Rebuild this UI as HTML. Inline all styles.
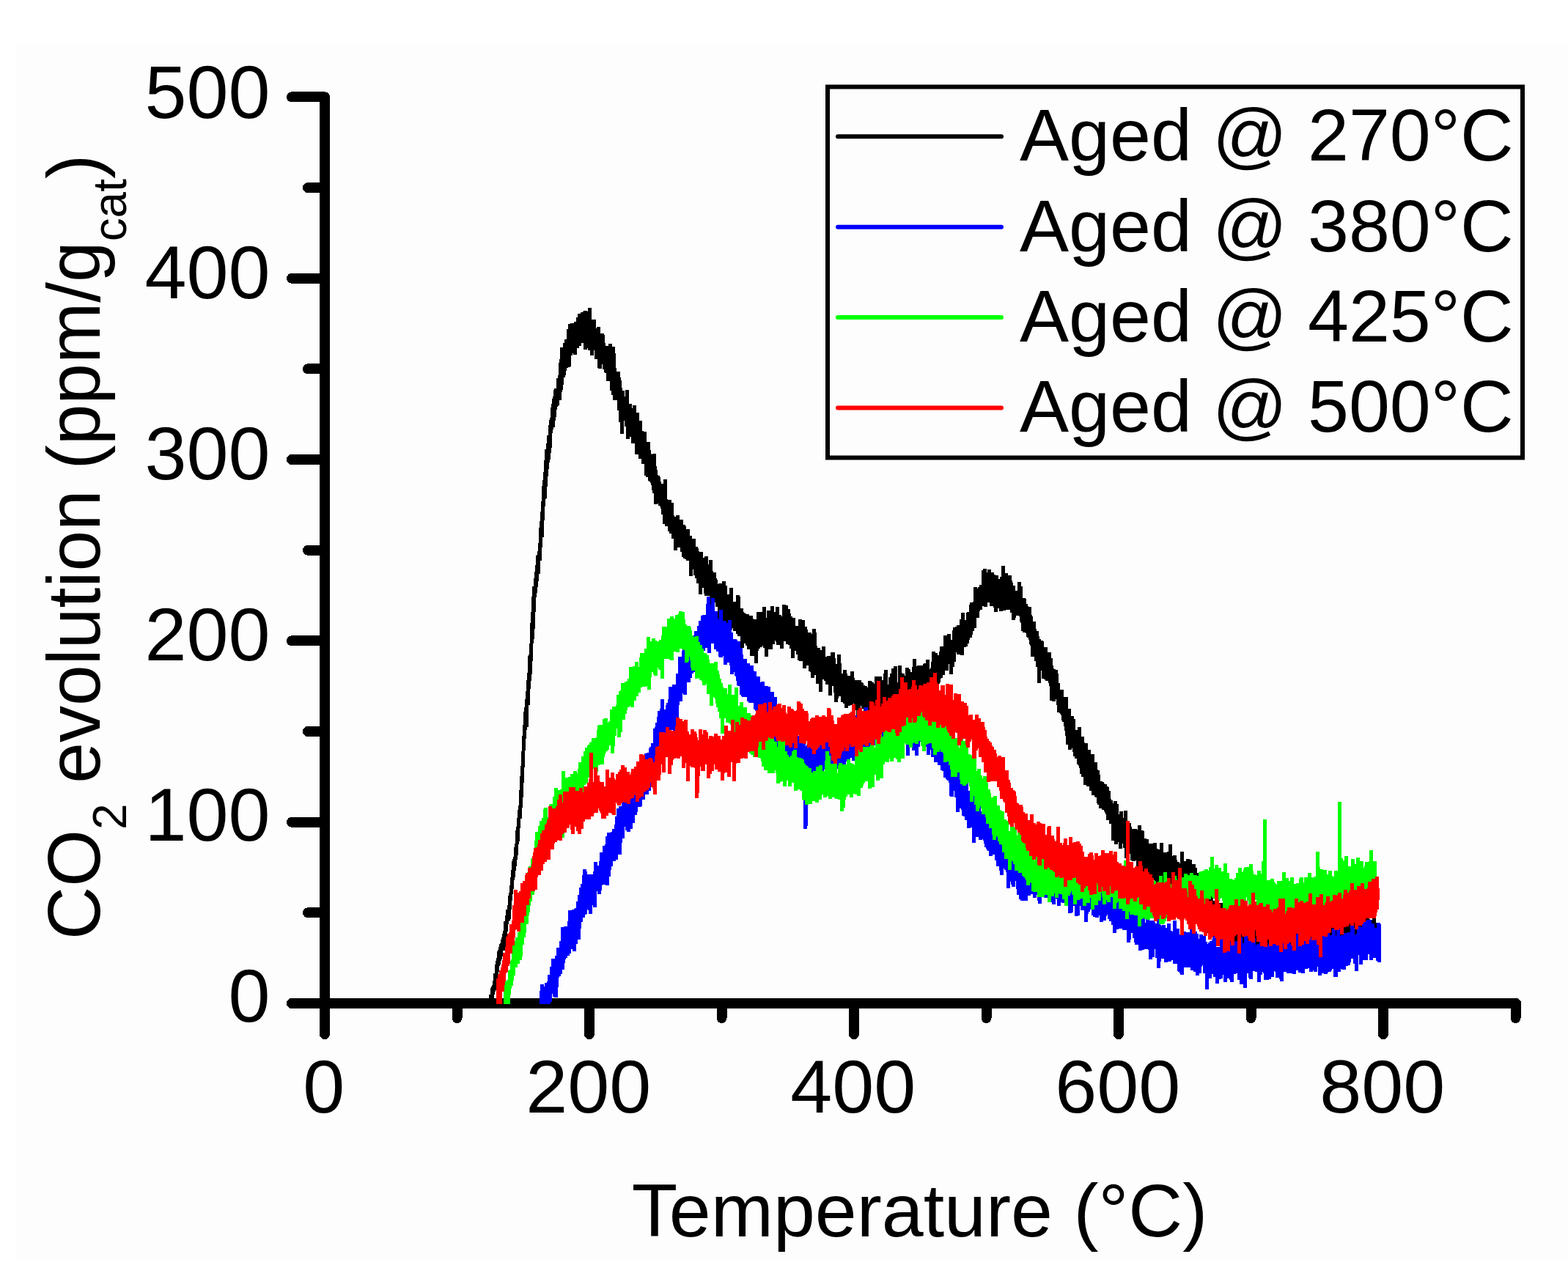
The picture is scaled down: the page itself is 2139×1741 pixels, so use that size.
<!DOCTYPE html>
<html><head><meta charset="utf-8"><title>CO2 evolution</title>
<style>html,body{margin:0;padding:0;background:#fff;overflow:hidden}svg{display:block}</style></head>
<body>
<svg width="2139" height="1741" viewBox="0 0 2139 1741" font-family="'Liberation Sans', sans-serif">
<rect x="0" y="0" width="2139" height="1741" fill="#ffffff"/>
<rect x="21" y="61" width="2118" height="1656" fill="#fdfdfd"/>
<g shape-rendering="crispEdges">
<line x1="443" y1="132.4" x2="443" y2="1369" stroke="#000" stroke-width="14" stroke-linecap="round"/>
<line x1="443" y1="1369" x2="2068" y2="1369" stroke="#000" stroke-width="14" stroke-linecap="round"/>
<line x1="443" y1="1369.0" x2="398" y2="1369.0" stroke="#000" stroke-width="14" stroke-linecap="round"/>
<line x1="443" y1="1245.3" x2="420" y2="1245.3" stroke="#000" stroke-width="14" stroke-linecap="round"/>
<line x1="443" y1="1121.7" x2="398" y2="1121.7" stroke="#000" stroke-width="14" stroke-linecap="round"/>
<line x1="443" y1="998.0" x2="420" y2="998.0" stroke="#000" stroke-width="14" stroke-linecap="round"/>
<line x1="443" y1="874.4" x2="398" y2="874.4" stroke="#000" stroke-width="14" stroke-linecap="round"/>
<line x1="443" y1="750.7" x2="420" y2="750.7" stroke="#000" stroke-width="14" stroke-linecap="round"/>
<line x1="443" y1="627.0" x2="398" y2="627.0" stroke="#000" stroke-width="14" stroke-linecap="round"/>
<line x1="443" y1="503.4" x2="420" y2="503.4" stroke="#000" stroke-width="14" stroke-linecap="round"/>
<line x1="443" y1="379.7" x2="398" y2="379.7" stroke="#000" stroke-width="14" stroke-linecap="round"/>
<line x1="443" y1="256.1" x2="420" y2="256.1" stroke="#000" stroke-width="14" stroke-linecap="round"/>
<line x1="443" y1="132.4" x2="398" y2="132.4" stroke="#000" stroke-width="14" stroke-linecap="round"/>
<line x1="443.0" y1="1369" x2="443.0" y2="1411" stroke="#000" stroke-width="14" stroke-linecap="round"/>
<line x1="623.5" y1="1369" x2="623.5" y2="1389" stroke="#000" stroke-width="14" stroke-linecap="round"/>
<line x1="804.0" y1="1369" x2="804.0" y2="1411" stroke="#000" stroke-width="14" stroke-linecap="round"/>
<line x1="984.5" y1="1369" x2="984.5" y2="1389" stroke="#000" stroke-width="14" stroke-linecap="round"/>
<line x1="1165.0" y1="1369" x2="1165.0" y2="1411" stroke="#000" stroke-width="14" stroke-linecap="round"/>
<line x1="1345.5" y1="1369" x2="1345.5" y2="1389" stroke="#000" stroke-width="14" stroke-linecap="round"/>
<line x1="1526.0" y1="1369" x2="1526.0" y2="1411" stroke="#000" stroke-width="14" stroke-linecap="round"/>
<line x1="1706.5" y1="1369" x2="1706.5" y2="1389" stroke="#000" stroke-width="14" stroke-linecap="round"/>
<line x1="1887.0" y1="1369" x2="1887.0" y2="1411" stroke="#000" stroke-width="14" stroke-linecap="round"/>
<line x1="2067.5" y1="1369" x2="2067.5" y2="1389" stroke="#000" stroke-width="14" stroke-linecap="round"/>
</g>
<g shape-rendering="crispEdges">
<path d="M666 1363 667 1363 667 1357 669 1357 669 1348 670 1348 670 1346 671 1346 671 1344 672 1344 672 1338 673 1338 673 1328 675 1328 675 1316 676 1316 676 1311 677 1311 677 1307 678 1307 678 1298 679 1298 679 1296 680 1296 680 1292 681 1292 681 1288 682 1288 682 1287 683 1287 683 1282 684 1282 684 1279 685 1279 685 1274 686 1274 686 1270 687 1270 687 1257 689 1257 689 1249 690 1249 690 1241 692 1241 692 1235 693 1235 693 1222 694 1222 694 1218 695 1218 695 1208 696 1208 696 1197 697 1197 697 1187 698 1187 698 1175 699 1175 699 1172 700 1172 700 1169 701 1169 701 1156 702 1156 702 1151 703 1151 703 1133 704 1133 704 1128 705 1128 705 1116 706 1116 706 1105 707 1105 707 1099 708 1099 708 1078 709 1078 709 1059 710 1059 710 1045 711 1045 711 1025 712 1025 712 1004 713 1004 713 989 714 989 714 971 715 971 715 965 716 965 716 954 717 954 717 943 718 943 718 928 719 928 719 918 720 918 720 895 721 895 721 893 722 893 722 878 723 878 723 850 724 850 724 835 725 835 725 814 726 814 726 800 728 800 728 789 729 789 729 780 730 780 730 771 731 771 731 758 732 758 732 757 733 757 733 752 734 752 734 741 735 741 735 720 736 720 736 711 737 711 737 698 738 698 738 684 739 684 739 663 740 663 740 655 741 655 741 644 742 644 742 628 743 628 743 613 745 613 745 605 746 605 746 594 748 594 748 580 749 580 749 573 750 573 750 570 751 570 751 556 752 556 752 551 753 551 753 544 754 544 754 541 755 541 755 532 756 532 756 530 759 530 759 516 761 516 761 512 762 512 762 495 763 495 763 490 764 490 764 474 768 474 768 468 770 468 770 463 773 463 773 449 775 449 775 442 778 442 778 441 783 441 783 439 786 439 786 433 788 433 788 428 792 428 792 426 795 426 795 425 796 425 796 424 801 424 801 425 802 425 802 420 807 420 807 436 813 436 813 448 814 448 814 446 819 446 819 455 824 455 824 457 825 457 825 468 826 468 826 472 830 472 830 469 835 469 835 473 839 473 839 482 840 482 840 502 841 502 841 507 846 507 846 515 847 515 847 519 848 519 848 529 849 529 849 533 852 533 852 541 853 541 853 532 858 532 858 551 862 551 862 557 863 557 863 553 868 553 868 563 872 563 872 574 876 574 876 588 878 588 878 589 882 589 882 603 887 603 887 614 888 614 888 619 889 619 889 620 890 620 890 619 895 619 895 636 896 636 896 641 897 641 897 648 898 648 898 649 900 649 900 651 901 651 901 657 902 657 902 660 905 660 905 654 910 654 910 681 911 681 911 682 916 682 916 686 919 686 919 703 920 703 920 705 922 705 922 703 927 703 927 709 932 709 932 716 935 716 935 718 936 718 936 722 941 722 941 731 944 731 944 735 949 735 949 746 952 746 952 748 953 748 953 752 954 752 954 753 959 753 959 761 961 761 961 759 966 759 966 770 967 770 967 764 972 764 972 779 973 779 973 781 977 781 977 789 978 789 978 791 979 791 979 797 980 797 980 796 985 796 985 793 990 793 990 799 992 799 992 811 995 811 995 802 1000 802 1000 821 1004 821 1004 812 1009 812 1009 814 1010 814 1010 830 1014 830 1014 835 1015 835 1015 836 1016 836 1016 837 1018 837 1018 838 1022 838 1022 840 1027 840 1027 844 1028 844 1028 845 1032 845 1032 835 1040 835 1040 828 1045 828 1045 843 1046 843 1046 833 1051 833 1051 827 1056 827 1056 835 1058 835 1058 828 1063 828 1063 839 1066 839 1066 841 1067 841 1067 825 1072 825 1072 826 1075 826 1075 831 1078 831 1078 837 1079 837 1079 841 1081 841 1081 843 1085 843 1085 854 1089 854 1089 845 1094 845 1094 846 1098 846 1098 855 1101 855 1101 859 1102 859 1102 863 1107 863 1107 865 1108 865 1108 858 1113 858 1113 863 1114 863 1114 881 1115 881 1115 884 1119 884 1119 887 1121 887 1121 882 1126 882 1126 896 1128 896 1128 895 1133 895 1133 890 1139 890 1139 898 1140 898 1140 906 1142 906 1142 893 1147 893 1147 905 1148 905 1148 919 1150 919 1150 914 1155 914 1155 919 1156 919 1156 922 1160 922 1160 916 1165 916 1165 925 1166 925 1166 928 1175 928 1175 931 1177 931 1177 932 1178 932 1178 935 1180 935 1180 936 1183 936 1183 938 1184 938 1184 929 1189 929 1189 930 1190 930 1190 931 1192 931 1192 933 1193 933 1193 923 1203 923 1203 928 1205 928 1205 919 1206 919 1206 914 1211 914 1211 934 1212 934 1212 924 1214 924 1214 919 1216 919 1216 912 1219 912 1219 909 1224 909 1224 931 1225 931 1225 908 1230 908 1230 918 1231 918 1231 919 1234 919 1234 922 1235 922 1235 911 1240 911 1240 913 1242 913 1242 917 1244 917 1244 910 1245 910 1245 899 1250 899 1250 909 1251 909 1251 908 1259 908 1259 906 1260 906 1260 905 1263 905 1263 900 1268 900 1268 913 1269 913 1269 911 1270 911 1270 903 1271 903 1271 889 1276 889 1276 891 1279 891 1279 894 1281 894 1281 889 1282 889 1282 882 1287 882 1287 867 1292 867 1292 865 1297 865 1297 873 1299 873 1299 860 1300 860 1300 856 1303 856 1303 855 1305 855 1305 853 1309 853 1309 845 1311 845 1311 836 1316 836 1316 846 1318 846 1318 836 1319 836 1319 835 1322 835 1322 825 1323 825 1323 822 1327 822 1327 821 1328 821 1328 801 1333 801 1333 803 1334 803 1334 801 1336 801 1336 798 1339 798 1339 778 1341 778 1341 776 1346 776 1346 781 1347 781 1347 777 1352 777 1352 781 1356 781 1356 784 1358 784 1358 785 1362 785 1362 790 1364 790 1364 787 1366 787 1366 772 1371 772 1371 782 1375 782 1375 785 1380 785 1380 792 1381 792 1381 795 1382 795 1382 799 1385 799 1385 806 1388 806 1388 794 1393 794 1393 800 1395 800 1395 816 1399 816 1399 817 1400 817 1400 824 1402 824 1402 827 1403 827 1403 828 1407 828 1407 839 1408 839 1408 841 1409 841 1409 848 1413 848 1413 858 1414 858 1414 861 1417 861 1417 868 1418 868 1418 872 1420 872 1420 874 1423 874 1423 875 1424 875 1424 883 1429 883 1429 890 1434 890 1434 898 1436 898 1436 908 1437 908 1437 912 1438 912 1438 913 1440 913 1440 914 1443 914 1443 919 1444 919 1444 932 1446 932 1446 941 1451 941 1451 951 1457 951 1457 967 1461 967 1461 977 1465 977 1465 981 1467 981 1467 996 1470 996 1470 992 1475 992 1475 1005 1479 1005 1479 1013 1480 1013 1480 1014 1484 1014 1484 1023 1488 1023 1488 1029 1493 1029 1493 1040 1497 1040 1497 1050 1498 1050 1498 1051 1500 1051 1500 1057 1501 1057 1501 1066 1504 1066 1504 1067 1506 1067 1506 1069 1507 1069 1507 1070 1510 1070 1510 1073 1512 1073 1512 1074 1513 1074 1513 1079 1515 1079 1515 1090 1516 1090 1516 1092 1518 1092 1518 1096 1519 1096 1519 1093 1524 1093 1524 1097 1526 1097 1526 1111 1527 1111 1527 1107 1532 1107 1532 1116 1533 1116 1533 1106 1538 1106 1538 1123 1543 1123 1543 1128 1544 1128 1544 1131 1551 1131 1551 1132 1552 1132 1552 1126 1557 1126 1557 1133 1560 1133 1560 1134 1561 1134 1561 1144 1564 1144 1564 1145 1567 1145 1567 1151 1573 1151 1573 1150 1578 1150 1578 1158 1580 1158 1580 1159 1582 1159 1582 1150 1587 1150 1587 1163 1592 1163 1592 1162 1594 1162 1594 1152 1599 1152 1599 1168 1600 1168 1600 1167 1605 1167 1605 1173 1606 1173 1606 1176 1609 1176 1609 1178 1610 1178 1610 1162 1615 1162 1615 1175 1618 1175 1618 1172 1623 1172 1623 1173 1626 1173 1626 1179 1631 1179 1631 1184 1633 1184 1633 1191 1635 1191 1635 1198 1636 1198 1636 1206 1641 1206 1641 1211 1646 1211 1646 1220 1650 1220 1650 1217 1655 1217 1655 1229 1657 1229 1657 1234 1661 1234 1661 1232 1668 1232 1668 1243 1669 1243 1669 1245 1674 1245 1674 1248 1678 1248 1678 1251 1682 1251 1682 1244 1687 1244 1687 1236 1692 1236 1692 1253 1696 1253 1696 1255 1698 1255 1698 1239 1703 1239 1703 1256 1705 1256 1705 1254 1712 1254 1712 1252 1717 1252 1717 1242 1722 1242 1722 1249 1723 1249 1723 1250 1726 1250 1726 1256 1727 1256 1727 1243 1732 1243 1732 1249 1733 1249 1733 1257 1736 1257 1736 1259 1740 1259 1740 1254 1745 1254 1745 1260 1747 1260 1747 1257 1750 1257 1750 1251 1753 1251 1753 1247 1758 1247 1758 1249 1760 1249 1760 1252 1761 1252 1761 1264 1762 1264 1762 1259 1765 1259 1765 1254 1770 1254 1770 1257 1772 1257 1772 1252 1773 1252 1773 1247 1778 1247 1778 1250 1783 1250 1783 1253 1785 1253 1785 1254 1786 1254 1786 1258 1787 1258 1787 1259 1790 1259 1790 1248 1795 1248 1795 1261 1797 1261 1797 1263 1798 1263 1798 1248 1803 1248 1803 1257 1806 1257 1806 1254 1808 1254 1808 1253 1813 1253 1813 1255 1815 1255 1815 1261 1816 1261 1816 1245 1821 1245 1821 1256 1823 1256 1823 1253 1825 1253 1825 1251 1830 1251 1830 1260 1831 1260 1831 1247 1836 1247 1836 1261 1837 1261 1837 1258 1838 1258 1838 1249 1841 1249 1841 1248 1846 1248 1846 1256 1847 1256 1847 1249 1851 1249 1851 1247 1856 1247 1856 1248 1863 1248 1863 1238 1868 1238 1868 1254 1869 1254 1869 1256 1870 1256 1870 1255 1872 1255 1872 1253 1877 1253 1877 1259 1880 1259 1880 1282 1879 1282 1879 1294 1874 1294 1874 1293 1869 1293 1869 1290 1865 1290 1865 1292 1860 1292 1860 1286 1858 1286 1858 1293 1856 1293 1856 1294 1852 1294 1852 1302 1847 1302 1847 1300 1839 1300 1839 1298 1835 1298 1835 1296 1832 1296 1832 1294 1831 1294 1831 1306 1828 1306 1828 1309 1823 1309 1823 1304 1816 1304 1816 1294 1815 1294 1815 1298 1813 1298 1813 1302 1806 1302 1806 1297 1800 1297 1800 1299 1797 1299 1797 1301 1792 1301 1792 1298 1790 1298 1790 1295 1786 1295 1786 1293 1785 1293 1785 1294 1783 1294 1783 1295 1778 1295 1778 1293 1777 1293 1777 1300 1776 1300 1776 1301 1775 1301 1775 1303 1770 1303 1770 1302 1769 1302 1769 1303 1766 1303 1766 1306 1761 1306 1761 1302 1757 1302 1757 1300 1752 1300 1752 1299 1750 1299 1750 1301 1748 1301 1748 1304 1743 1304 1743 1293 1742 1293 1742 1295 1740 1295 1740 1297 1739 1297 1739 1302 1738 1302 1738 1309 1733 1309 1733 1308 1732 1308 1732 1301 1730 1301 1730 1299 1727 1299 1727 1304 1722 1304 1722 1293 1721 1293 1721 1299 1716 1299 1716 1295 1712 1295 1712 1299 1711 1299 1711 1300 1708 1300 1708 1305 1699 1305 1699 1298 1697 1298 1697 1296 1696 1296 1696 1297 1694 1297 1694 1302 1689 1302 1689 1290 1688 1290 1688 1284 1686 1284 1686 1288 1683 1288 1683 1289 1680 1289 1680 1290 1675 1290 1675 1292 1673 1292 1673 1295 1665 1295 1665 1288 1664 1288 1664 1290 1659 1290 1659 1277 1658 1277 1658 1275 1655 1275 1655 1268 1654 1268 1654 1263 1651 1263 1651 1273 1646 1273 1646 1265 1644 1265 1644 1264 1643 1264 1643 1253 1642 1253 1642 1250 1640 1250 1640 1247 1638 1247 1638 1245 1636 1245 1636 1241 1634 1241 1634 1235 1632 1235 1632 1228 1629 1228 1629 1223 1627 1223 1627 1228 1622 1228 1622 1227 1619 1227 1619 1212 1617 1212 1617 1223 1612 1223 1612 1221 1611 1221 1611 1218 1609 1218 1609 1212 1608 1212 1608 1223 1603 1223 1603 1210 1602 1210 1602 1218 1597 1218 1597 1213 1594 1213 1594 1210 1593 1210 1593 1200 1591 1200 1591 1213 1586 1213 1586 1211 1585 1211 1585 1210 1581 1210 1581 1204 1580 1204 1580 1220 1575 1220 1575 1201 1573 1201 1573 1203 1572 1203 1572 1208 1567 1208 1567 1194 1564 1194 1564 1193 1557 1193 1557 1176 1555 1176 1555 1185 1550 1185 1550 1174 1549 1174 1549 1175 1544 1175 1544 1174 1542 1174 1542 1165 1539 1165 1539 1171 1534 1171 1534 1157 1532 1157 1532 1151 1531 1151 1531 1158 1526 1158 1526 1149 1525 1149 1525 1152 1520 1152 1520 1147 1516 1147 1516 1124 1513 1124 1513 1119 1509 1119 1509 1111 1508 1111 1508 1109 1507 1109 1507 1107 1506 1107 1506 1105 1503 1105 1503 1103 1499 1103 1499 1098 1497 1098 1497 1096 1496 1096 1496 1088 1494 1088 1494 1087 1493 1087 1493 1085 1489 1085 1489 1079 1486 1079 1486 1073 1482 1073 1482 1071 1478 1071 1478 1060 1475 1060 1475 1056 1473 1056 1473 1048 1472 1048 1472 1045 1471 1045 1471 1043 1469 1043 1469 1035 1466 1035 1466 1032 1464 1032 1464 1026 1463 1026 1463 1021 1462 1021 1462 1023 1457 1023 1457 1016 1454 1016 1454 1004 1453 1004 1453 997 1452 997 1452 991 1451 991 1451 985 1449 985 1449 983 1448 983 1448 976 1447 976 1447 974 1446 974 1446 973 1445 973 1445 972 1442 972 1442 962 1441 962 1441 954 1440 954 1440 957 1435 957 1435 956 1432 956 1432 936 1431 936 1431 932 1430 932 1430 929 1426 929 1426 927 1424 927 1424 926 1421 926 1421 915 1420 915 1420 932 1415 932 1415 910 1413 910 1413 902 1411 902 1411 896 1406 896 1406 881 1405 881 1405 879 1404 879 1404 873 1403 873 1403 870 1401 870 1401 869 1400 869 1400 864 1399 864 1399 863 1395 863 1395 861 1393 861 1393 850 1392 850 1392 848 1391 848 1391 841 1390 841 1390 840 1386 840 1386 843 1385 843 1385 846 1380 846 1380 836 1378 836 1378 832 1372 832 1372 833 1368 833 1368 834 1363 834 1363 830 1361 830 1361 835 1356 835 1356 829 1355 829 1355 827 1350 827 1350 822 1347 822 1347 828 1342 828 1342 827 1340 827 1340 832 1337 832 1337 834 1336 834 1336 843 1332 843 1332 857 1329 857 1329 861 1327 861 1327 866 1326 866 1326 870 1323 870 1323 873 1322 873 1322 878 1320 878 1320 882 1318 882 1318 883 1315 883 1315 894 1310 894 1310 893 1305 893 1305 890 1304 890 1304 903 1302 903 1302 910 1300 910 1300 920 1295 920 1295 906 1294 906 1294 915 1289 915 1289 921 1286 921 1286 925 1284 925 1284 926 1283 926 1283 931 1282 931 1282 933 1280 933 1280 935 1279 935 1279 944 1273 944 1273 946 1269 946 1269 949 1266 949 1266 960 1261 960 1261 941 1260 941 1260 944 1259 944 1259 945 1257 945 1257 950 1253 950 1253 957 1248 957 1248 951 1247 951 1247 959 1243 959 1243 963 1238 963 1238 956 1237 956 1237 963 1232 963 1232 955 1230 955 1230 960 1228 960 1228 962 1227 962 1227 963 1225 963 1225 968 1220 968 1220 963 1219 963 1219 968 1214 968 1214 972 1212 972 1212 974 1208 974 1208 976 1203 976 1203 972 1202 972 1202 971 1201 971 1201 967 1198 967 1198 960 1197 960 1197 980 1192 980 1192 975 1191 975 1191 976 1187 976 1187 980 1182 980 1182 973 1181 973 1181 972 1178 972 1178 967 1175 967 1175 963 1174 963 1174 978 1169 978 1169 977 1168 977 1168 969 1165 969 1165 960 1164 960 1164 962 1160 962 1160 963 1157 963 1157 966 1152 966 1152 960 1150 960 1150 958 1147 958 1147 950 1144 950 1144 953 1143 953 1143 958 1138 958 1138 945 1137 945 1137 936 1135 936 1135 949 1130 949 1130 934 1126 934 1126 929 1124 929 1124 927 1122 927 1122 944 1117 944 1117 933 1113 933 1113 921 1111 921 1111 925 1106 925 1106 917 1105 917 1105 916 1103 916 1103 908 1100 908 1100 912 1095 912 1095 902 1090 902 1090 901 1088 901 1088 893 1086 893 1086 888 1084 888 1084 898 1079 898 1079 885 1077 885 1077 880 1075 880 1075 879 1072 879 1072 875 1069 875 1069 885 1064 885 1064 880 1059 880 1059 876 1058 876 1058 874 1057 874 1057 879 1054 879 1054 886 1048 886 1048 896 1043 896 1043 884 1041 884 1041 881 1040 881 1040 883 1037 883 1037 885 1035 885 1035 888 1034 888 1034 905 1029 905 1029 895 1023 895 1023 886 1019 886 1019 881 1017 881 1017 878 1015 878 1015 884 1010 884 1010 868 1006 868 1006 865 1004 865 1004 861 1000 861 1000 857 999 857 999 859 997 859 997 864 992 864 992 852 991 852 991 856 986 856 986 844 984 844 984 847 979 847 979 828 976 828 976 822 974 822 974 827 969 827 969 816 968 816 968 813 961 813 961 810 960 810 960 802 958 802 958 811 953 811 953 796 950 796 950 789 948 789 948 785 946 785 946 777 945 777 945 786 940 786 940 765 936 765 936 763 934 763 934 762 932 762 932 760 930 760 930 753 928 753 928 747 924 747 924 751 919 751 919 735 916 735 916 728 913 728 913 725 911 725 911 718 907 718 907 715 904 715 904 702 902 702 902 694 901 694 901 691 900 691 900 690 898 690 898 687 897 687 897 688 892 688 892 673 890 673 890 669 889 669 889 662 888 662 888 659 887 659 887 657 885 657 885 656 884 656 884 651 881 651 881 649 879 649 879 633 875 633 875 626 871 626 871 620 866 620 866 605 861 605 861 596 859 596 859 599 854 599 854 582 852 582 852 574 851 574 851 592 846 592 846 576 844 576 844 560 842 560 842 546 836 546 836 539 834 539 834 533 832 533 832 520 827 520 827 509 825 509 825 508 824 508 824 504 822 504 822 497 821 497 821 503 816 503 816 502 815 502 815 490 811 490 811 478 810 478 810 485 805 485 805 478 802 478 802 475 801 475 801 477 796 477 796 468 793 468 793 472 790 472 790 475 787 475 787 484 782 484 782 482 781 482 781 485 779 485 779 500 778 500 778 501 775 501 775 502 773 502 773 506 772 506 772 512 771 512 771 515 769 515 769 525 768 525 768 532 767 532 767 535 766 535 766 546 763 546 763 553 762 553 762 554 761 554 761 555 760 555 760 559 759 559 759 569 758 569 758 574 757 574 757 583 755 583 755 586 754 586 754 591 753 591 753 611 752 611 752 618 751 618 751 627 750 627 750 631 749 631 749 640 748 640 748 650 747 650 747 664 746 664 746 680 745 680 745 681 744 681 744 691 743 691 743 710 742 710 742 733 740 733 740 747 739 747 739 765 737 765 737 783 735 783 735 793 734 793 734 801 733 801 733 809 732 809 732 815 731 815 731 835 730 835 730 858 729 858 729 872 728 872 728 878 727 878 727 902 726 902 726 920 725 920 725 929 724 929 724 940 723 940 723 962 721 962 721 992 719 992 719 996 718 996 718 1008 717 1008 717 1024 716 1024 716 1047 715 1047 715 1068 714 1068 714 1088 713 1088 713 1102 712 1102 712 1117 710 1117 710 1130 709 1130 709 1148 708 1148 708 1152 707 1152 707 1167 706 1167 706 1173 705 1173 705 1182 704 1182 704 1188 703 1188 703 1197 702 1197 702 1201 701 1201 701 1213 700 1213 700 1220 699 1220 699 1229 698 1229 698 1241 697 1241 697 1254 696 1254 696 1256 695 1256 695 1257 694 1257 694 1261 693 1261 693 1271 692 1271 692 1278 691 1278 691 1280 690 1280 690 1294 689 1294 689 1297 686 1297 686 1305 685 1305 685 1309 684 1309 684 1311 683 1311 683 1316 682 1316 682 1318 681 1318 681 1326 680 1326 680 1331 679 1331 679 1340 677 1340 677 1351 676 1351 676 1353 675 1353 675 1357 674 1357 674 1365 673 1365 673 1367 672 1367 672 1370 666 1370Z" fill="#000000"/>
<path d="M736 1352 737 1352 737 1343 742 1343 742 1346 743 1346 743 1341 746 1341 746 1339 747 1339 747 1330 750 1330 750 1319 752 1319 752 1308 757 1308 757 1304 759 1304 759 1293 763 1293 763 1284 765 1284 765 1265 769 1265 769 1264 774 1264 774 1257 775 1257 775 1242 780 1242 780 1241 783 1241 783 1240 784 1240 784 1239 786 1239 786 1230 788 1230 788 1221 790 1221 790 1211 792 1211 792 1206 794 1206 794 1194 795 1194 795 1186 800 1186 800 1189 801 1189 801 1193 809 1193 809 1189 810 1189 810 1176 815 1176 815 1181 817 1181 817 1175 818 1175 818 1163 822 1163 822 1154 825 1154 825 1152 826 1152 826 1141 828 1141 828 1136 833 1136 833 1135 835 1135 835 1131 838 1131 838 1125 839 1125 839 1114 841 1114 841 1103 844 1103 844 1100 848 1100 848 1096 849 1096 849 1089 852 1089 852 1086 858 1086 858 1074 859 1074 859 1072 860 1072 860 1071 862 1071 862 1068 863 1068 863 1066 864 1066 864 1064 866 1064 866 1059 870 1059 870 1051 873 1051 873 1040 876 1040 876 1032 879 1032 879 1028 882 1028 882 1027 885 1027 885 1021 886 1021 886 1019 888 1019 888 1014 891 1014 891 994 893 994 893 992 894 992 894 986 896 986 896 978 897 978 897 970 900 970 900 967 901 967 901 954 906 954 906 968 908 968 908 962 909 962 909 959 911 959 911 954 912 954 912 937 917 937 917 934 922 934 922 919 925 919 925 896 930 896 930 888 931 888 931 886 935 886 935 877 939 877 939 868 945 868 945 867 947 867 947 861 951 861 951 854 953 854 953 847 956 847 956 840 958 840 958 839 963 839 963 824 964 824 964 814 969 814 969 825 970 825 970 816 975 816 975 834 979 834 979 843 980 843 980 845 981 845 981 832 986 832 986 847 991 847 991 850 993 850 993 846 998 846 998 863 1000 863 1000 872 1005 872 1005 873 1006 873 1006 875 1010 875 1010 884 1013 884 1013 893 1014 893 1014 899 1019 899 1019 905 1023 905 1023 908 1028 908 1028 915 1029 915 1029 916 1032 916 1032 923 1037 923 1037 931 1038 931 1038 930 1043 930 1043 936 1048 936 1048 937 1051 937 1051 944 1056 944 1056 951 1060 951 1060 962 1062 962 1062 965 1063 965 1063 979 1067 979 1067 980 1068 980 1068 983 1069 983 1069 981 1070 981 1070 978 1075 978 1075 996 1076 996 1076 1000 1078 1000 1078 1001 1085 1001 1085 1004 1090 1004 1090 1012 1091 1012 1091 1002 1096 1002 1096 1005 1099 1005 1099 1018 1100 1018 1100 1016 1101 1016 1101 1013 1102 1013 1102 1011 1107 1011 1107 1016 1108 1016 1108 1014 1113 1014 1113 1013 1114 1013 1114 998 1119 998 1119 1013 1120 1013 1120 1010 1121 1010 1121 1008 1123 1008 1123 1004 1127 1004 1127 998 1132 998 1132 996 1134 996 1134 993 1139 993 1139 1002 1140 1002 1140 1000 1145 1000 1145 997 1150 997 1150 1002 1151 1002 1151 995 1156 995 1156 997 1160 997 1160 979 1165 979 1165 983 1166 983 1166 976 1171 976 1171 981 1172 981 1172 985 1174 985 1174 979 1177 979 1177 971 1179 971 1179 965 1184 965 1184 977 1186 977 1186 973 1191 973 1191 977 1193 977 1193 966 1198 966 1198 975 1201 975 1201 968 1205 968 1205 960 1210 960 1210 963 1215 963 1215 964 1216 964 1216 963 1221 963 1221 957 1226 957 1226 970 1228 970 1228 972 1229 972 1229 960 1234 960 1234 962 1242 962 1242 964 1244 964 1244 967 1247 967 1247 974 1248 974 1248 977 1249 977 1249 959 1254 959 1254 968 1258 968 1258 965 1263 965 1263 970 1267 970 1267 978 1269 978 1269 979 1273 979 1273 984 1277 984 1277 1002 1279 1002 1279 996 1284 996 1284 1002 1285 1002 1285 996 1290 996 1290 1016 1292 1016 1292 1018 1295 1018 1295 1020 1296 1020 1296 1033 1297 1033 1297 1028 1302 1028 1302 1042 1303 1042 1303 1043 1306 1043 1306 1040 1311 1040 1311 1057 1313 1057 1313 1064 1316 1064 1316 1062 1321 1062 1321 1079 1325 1079 1325 1086 1330 1086 1330 1087 1332 1087 1332 1088 1333 1088 1333 1085 1338 1085 1338 1107 1339 1107 1339 1108 1341 1108 1341 1100 1345 1100 1345 1098 1350 1098 1350 1119 1352 1119 1352 1120 1356 1120 1356 1107 1361 1107 1361 1114 1364 1114 1364 1134 1371 1134 1371 1147 1373 1147 1373 1148 1377 1148 1377 1153 1378 1153 1378 1162 1379 1162 1379 1153 1383 1153 1383 1151 1388 1151 1388 1159 1390 1159 1390 1164 1394 1164 1394 1163 1399 1163 1399 1167 1400 1167 1400 1161 1405 1161 1405 1162 1406 1162 1406 1176 1408 1176 1408 1174 1413 1174 1413 1176 1416 1176 1416 1180 1419 1180 1419 1176 1423 1176 1423 1170 1428 1170 1428 1172 1431 1172 1431 1185 1434 1185 1434 1186 1437 1186 1437 1168 1442 1168 1442 1181 1444 1181 1444 1175 1447 1175 1447 1174 1452 1174 1452 1185 1456 1185 1456 1178 1457 1178 1457 1168 1462 1168 1462 1192 1463 1192 1463 1191 1465 1191 1465 1176 1470 1176 1470 1187 1472 1187 1472 1189 1473 1189 1473 1193 1475 1193 1475 1192 1477 1192 1477 1185 1482 1185 1482 1195 1483 1195 1483 1189 1488 1189 1488 1194 1490 1194 1490 1201 1493 1201 1493 1203 1495 1203 1495 1204 1496 1204 1496 1190 1501 1190 1501 1197 1502 1197 1502 1202 1507 1202 1507 1212 1509 1212 1509 1202 1514 1202 1514 1207 1518 1207 1518 1204 1523 1204 1523 1224 1528 1224 1528 1229 1529 1229 1529 1231 1530 1231 1530 1224 1532 1224 1532 1223 1537 1223 1537 1229 1542 1229 1542 1238 1543 1238 1543 1244 1544 1244 1544 1234 1550 1234 1550 1241 1555 1241 1555 1242 1556 1242 1556 1244 1561 1244 1561 1250 1562 1250 1562 1259 1563 1259 1563 1238 1568 1238 1568 1256 1575 1256 1575 1258 1576 1258 1576 1260 1578 1260 1578 1249 1583 1249 1583 1262 1584 1262 1584 1263 1585 1263 1585 1262 1590 1262 1590 1266 1592 1266 1592 1260 1597 1260 1597 1270 1599 1270 1599 1271 1600 1271 1600 1256 1605 1256 1605 1267 1609 1267 1609 1275 1611 1275 1611 1274 1613 1274 1613 1271 1618 1271 1618 1272 1623 1272 1623 1251 1628 1251 1628 1271 1633 1271 1633 1274 1635 1274 1635 1281 1636 1281 1636 1275 1641 1275 1641 1277 1645 1277 1645 1285 1647 1285 1647 1288 1648 1288 1648 1286 1650 1286 1650 1284 1653 1284 1653 1282 1654 1282 1654 1273 1659 1273 1659 1292 1664 1292 1664 1273 1669 1273 1669 1280 1672 1280 1672 1282 1674 1282 1674 1291 1676 1291 1676 1294 1677 1294 1677 1290 1678 1290 1678 1285 1685 1285 1685 1284 1690 1284 1690 1279 1695 1279 1695 1287 1697 1287 1697 1275 1702 1275 1702 1283 1703 1283 1703 1272 1708 1272 1708 1274 1712 1274 1712 1280 1713 1280 1713 1290 1714 1290 1714 1288 1718 1288 1718 1283 1723 1283 1723 1284 1724 1284 1724 1292 1726 1292 1726 1290 1730 1290 1730 1287 1731 1287 1731 1276 1736 1276 1736 1285 1738 1285 1738 1287 1741 1287 1741 1286 1747 1286 1747 1285 1750 1285 1750 1277 1753 1277 1753 1276 1758 1276 1758 1286 1760 1286 1760 1288 1761 1288 1761 1286 1762 1286 1762 1284 1763 1284 1763 1277 1766 1277 1766 1276 1767 1276 1767 1275 1769 1275 1769 1274 1773 1274 1773 1264 1778 1264 1778 1276 1779 1276 1779 1275 1784 1275 1784 1277 1788 1277 1788 1279 1789 1279 1789 1281 1790 1281 1790 1275 1792 1275 1792 1274 1795 1274 1795 1265 1800 1265 1800 1272 1801 1272 1801 1274 1805 1274 1805 1277 1808 1277 1808 1271 1814 1271 1814 1276 1817 1276 1817 1267 1822 1267 1822 1277 1823 1277 1823 1265 1828 1265 1828 1277 1829 1277 1829 1276 1833 1276 1833 1273 1838 1273 1838 1272 1842 1272 1842 1259 1847 1259 1847 1266 1848 1266 1848 1276 1849 1276 1849 1274 1851 1274 1851 1264 1856 1264 1856 1265 1858 1265 1858 1253 1863 1253 1863 1256 1865 1256 1865 1255 1871 1255 1871 1260 1875 1260 1875 1266 1878 1266 1878 1259 1883 1259 1883 1261 1884 1261 1884 1313 1879 1313 1879 1311 1877 1311 1877 1307 1873 1307 1873 1310 1868 1310 1868 1302 1866 1302 1866 1310 1859 1310 1859 1316 1854 1316 1854 1303 1853 1303 1853 1325 1848 1325 1848 1315 1846 1315 1846 1308 1843 1308 1843 1313 1842 1313 1842 1317 1839 1317 1839 1318 1836 1318 1836 1323 1830 1323 1830 1322 1829 1322 1829 1326 1825 1326 1825 1333 1819 1333 1819 1322 1817 1322 1817 1324 1816 1324 1816 1326 1812 1326 1812 1327 1811 1327 1811 1329 1806 1329 1806 1328 1803 1328 1803 1331 1798 1331 1798 1319 1797 1319 1797 1326 1792 1326 1792 1324 1791 1324 1791 1326 1786 1326 1786 1321 1784 1321 1784 1322 1780 1322 1780 1328 1775 1328 1775 1327 1771 1327 1771 1324 1768 1324 1768 1329 1763 1329 1763 1328 1755 1328 1755 1326 1751 1326 1751 1339 1746 1339 1746 1336 1745 1336 1745 1334 1740 1334 1740 1326 1739 1326 1739 1325 1738 1325 1738 1333 1734 1333 1734 1336 1731 1336 1731 1337 1724 1337 1724 1328 1723 1328 1723 1326 1722 1326 1722 1330 1720 1330 1720 1340 1715 1340 1715 1326 1712 1326 1712 1325 1709 1325 1709 1336 1704 1336 1704 1334 1703 1334 1703 1328 1701 1328 1701 1348 1696 1348 1696 1343 1691 1343 1691 1337 1688 1337 1688 1328 1686 1328 1686 1329 1683 1329 1683 1340 1678 1340 1678 1337 1677 1337 1677 1335 1674 1335 1674 1340 1669 1340 1669 1330 1668 1330 1668 1335 1666 1335 1666 1336 1663 1336 1663 1342 1658 1342 1658 1333 1655 1333 1655 1329 1653 1329 1653 1335 1649 1335 1649 1350 1644 1350 1644 1328 1641 1328 1641 1317 1640 1317 1640 1319 1639 1319 1639 1328 1636 1328 1636 1331 1631 1331 1631 1326 1628 1326 1628 1324 1624 1324 1624 1320 1615 1320 1615 1330 1610 1330 1610 1328 1609 1328 1609 1326 1607 1326 1607 1325 1606 1325 1606 1315 1600 1315 1600 1310 1598 1310 1598 1312 1593 1312 1593 1313 1588 1313 1588 1308 1584 1308 1584 1312 1583 1312 1583 1321 1578 1321 1578 1307 1576 1307 1576 1295 1575 1295 1575 1306 1572 1306 1572 1309 1567 1309 1567 1296 1566 1296 1566 1295 1561 1295 1561 1296 1558 1296 1558 1297 1553 1297 1553 1289 1548 1289 1548 1286 1547 1286 1547 1280 1545 1280 1545 1273 1543 1273 1543 1282 1542 1282 1542 1286 1537 1286 1537 1269 1531 1269 1531 1267 1526 1267 1526 1268 1523 1268 1523 1273 1518 1273 1518 1262 1516 1262 1516 1257 1513 1257 1513 1254 1511 1254 1511 1248 1510 1248 1510 1250 1509 1250 1509 1256 1505 1256 1505 1258 1500 1258 1500 1249 1499 1249 1499 1252 1494 1252 1494 1251 1491 1251 1491 1249 1489 1249 1489 1230 1488 1230 1488 1241 1487 1241 1487 1244 1485 1244 1485 1247 1484 1247 1484 1258 1479 1258 1479 1242 1474 1242 1474 1236 1473 1236 1473 1249 1471 1249 1471 1250 1466 1250 1466 1236 1464 1236 1464 1245 1462 1245 1462 1246 1457 1246 1457 1233 1454 1233 1454 1228 1453 1228 1453 1232 1448 1232 1448 1231 1447 1231 1447 1236 1442 1236 1442 1227 1441 1227 1441 1226 1440 1226 1440 1234 1435 1234 1435 1231 1431 1231 1431 1222 1429 1222 1429 1225 1424 1225 1424 1222 1421 1222 1421 1233 1416 1233 1416 1229 1415 1229 1415 1221 1414 1221 1414 1225 1409 1225 1409 1220 1406 1220 1406 1222 1402 1222 1402 1229 1392 1229 1392 1227 1390 1227 1390 1221 1387 1221 1387 1213 1386 1213 1386 1202 1385 1202 1385 1210 1380 1210 1380 1207 1379 1207 1379 1203 1378 1203 1378 1212 1373 1212 1373 1190 1372 1190 1372 1187 1370 1187 1370 1185 1369 1185 1369 1194 1364 1194 1364 1188 1363 1188 1363 1182 1359 1182 1359 1174 1357 1174 1357 1166 1354 1166 1354 1168 1349 1168 1349 1161 1347 1161 1347 1160 1346 1160 1346 1158 1345 1158 1345 1156 1343 1156 1343 1151 1342 1151 1342 1147 1341 1147 1341 1145 1340 1145 1340 1146 1335 1146 1335 1142 1331 1142 1331 1150 1326 1150 1326 1129 1324 1129 1324 1130 1319 1130 1319 1119 1316 1119 1316 1114 1314 1114 1314 1113 1312 1113 1312 1105 1311 1105 1311 1103 1309 1103 1309 1108 1304 1108 1304 1088 1302 1088 1302 1079 1301 1079 1301 1087 1296 1087 1296 1086 1295 1086 1295 1068 1294 1068 1294 1065 1292 1065 1292 1064 1291 1064 1291 1063 1290 1063 1290 1061 1287 1061 1287 1052 1285 1052 1285 1051 1283 1051 1283 1044 1279 1044 1279 1040 1274 1040 1274 1033 1270 1033 1270 1023 1269 1023 1269 1030 1264 1030 1264 1019 1263 1019 1263 1020 1258 1020 1258 1015 1256 1015 1256 1012 1255 1012 1255 1019 1253 1019 1253 1031 1248 1031 1248 1024 1244 1024 1244 1011 1242 1011 1242 1016 1241 1016 1241 1031 1236 1031 1236 1011 1233 1011 1233 1010 1230 1010 1230 1014 1225 1014 1225 1007 1223 1007 1223 1016 1218 1016 1218 1017 1213 1017 1213 1012 1211 1012 1211 1015 1207 1015 1207 1018 1203 1018 1203 1022 1198 1022 1198 1014 1197 1014 1197 1017 1192 1017 1192 1015 1191 1015 1191 1025 1186 1025 1186 1022 1185 1022 1185 1023 1182 1023 1182 1027 1181 1027 1181 1035 1178 1035 1178 1037 1173 1037 1173 1034 1168 1034 1168 1026 1167 1026 1167 1038 1162 1038 1162 1034 1160 1034 1160 1037 1158 1037 1158 1039 1154 1039 1154 1045 1149 1045 1149 1046 1146 1046 1146 1049 1141 1049 1141 1048 1139 1048 1139 1046 1138 1046 1138 1056 1133 1056 1133 1049 1130 1049 1130 1047 1129 1047 1129 1049 1127 1049 1127 1050 1124 1050 1124 1057 1119 1057 1119 1056 1118 1056 1118 1061 1115 1061 1115 1062 1110 1062 1110 1061 1107 1061 1107 1063 1102 1063 1102 1127 1101 1127 1101 1131 1096 1131 1096 1064 1093 1064 1093 1061 1092 1061 1092 1053 1091 1053 1091 1052 1087 1052 1087 1056 1082 1056 1082 1041 1079 1041 1079 1040 1076 1040 1076 1035 1073 1035 1073 1032 1068 1032 1068 1023 1067 1023 1067 1022 1066 1022 1066 1021 1065 1021 1065 1023 1059 1023 1059 1013 1055 1013 1055 1005 1054 1005 1054 997 1053 997 1053 996 1051 996 1051 998 1046 998 1046 992 1045 992 1045 990 1042 990 1042 986 1038 986 1038 979 1036 979 1036 980 1031 980 1031 970 1030 970 1030 968 1028 968 1028 959 1021 959 1021 957 1019 957 1019 951 1012 951 1012 950 1011 950 1011 948 1009 948 1009 936 1006 936 1006 935 1005 935 1005 929 1004 929 1004 923 1003 923 1003 922 1002 922 1002 917 1001 917 1001 920 996 920 996 908 995 908 995 904 992 904 992 907 987 907 987 895 986 895 986 897 981 897 981 896 980 896 980 889 977 889 977 886 974 886 974 878 970 878 970 891 965 891 965 884 962 884 962 888 958 888 958 889 957 889 957 901 952 901 952 903 949 903 949 917 946 917 946 919 944 919 944 925 942 925 942 931 937 931 937 948 932 948 932 946 931 946 931 957 927 957 927 962 926 962 926 983 923 983 923 1008 918 1008 918 996 916 996 916 999 915 999 915 1003 912 1003 912 1010 910 1010 910 1022 905 1022 905 1012 904 1012 904 1022 901 1022 901 1024 900 1024 900 1029 896 1029 896 1034 895 1034 895 1053 893 1053 893 1055 892 1055 892 1059 889 1059 889 1063 888 1063 888 1079 885 1079 885 1084 880 1084 880 1091 876 1091 876 1100 875 1100 875 1101 870 1101 870 1108 869 1108 869 1112 866 1112 866 1123 863 1123 863 1131 860 1131 860 1135 855 1135 855 1133 853 1133 853 1128 852 1128 852 1144 849 1144 849 1150 848 1150 848 1166 843 1166 843 1173 840 1173 840 1175 836 1175 836 1182 834 1182 834 1187 833 1187 833 1196 831 1196 831 1208 826 1208 826 1207 822 1207 822 1208 821 1208 821 1215 820 1215 820 1220 815 1220 815 1216 814 1216 814 1238 809 1238 809 1235 808 1235 808 1247 803 1247 803 1242 802 1242 802 1241 801 1241 801 1247 800 1247 800 1248 798 1248 798 1252 795 1252 795 1258 793 1258 793 1267 792 1267 792 1282 788 1282 788 1288 786 1288 786 1298 781 1298 781 1295 779 1295 779 1301 777 1301 777 1304 774 1304 774 1307 772 1307 772 1309 771 1309 771 1314 770 1314 770 1323 767 1323 767 1329 765 1329 765 1332 763 1332 763 1334 762 1334 762 1347 761 1347 761 1361 756 1361 756 1360 754 1360 754 1356 753 1356 753 1367 751 1367 751 1370 736 1370Z" fill="#0000ff"/>
<path d="M687 1339 691 1339 691 1337 693 1337 693 1324 695 1324 695 1323 696 1323 696 1311 697 1311 697 1309 698 1309 698 1287 702 1287 702 1284 703 1284 703 1279 706 1279 706 1272 708 1272 708 1254 711 1254 711 1248 712 1248 712 1238 713 1238 713 1217 714 1217 714 1216 717 1216 717 1202 719 1202 719 1190 721 1190 721 1182 724 1182 724 1171 726 1171 726 1169 729 1169 729 1147 730 1147 730 1135 734 1135 734 1127 736 1127 736 1120 739 1120 739 1116 741 1116 741 1104 742 1104 742 1102 747 1102 747 1115 748 1115 748 1102 749 1102 749 1098 750 1098 750 1097 754 1097 754 1087 756 1087 756 1075 761 1075 761 1078 764 1078 764 1077 766 1077 766 1052 771 1052 771 1061 775 1061 775 1060 778 1060 778 1056 782 1056 782 1052 787 1052 787 1055 788 1055 788 1049 789 1049 789 1040 793 1040 793 1032 796 1032 796 1025 798 1025 798 1020 801 1020 801 1017 802 1017 802 1016 804 1016 804 1013 806 1013 806 1012 807 1012 807 1007 813 1007 813 1006 814 1006 814 996 815 996 815 990 816 990 816 989 822 989 822 981 824 981 824 980 829 980 829 986 830 986 830 984 832 984 832 968 835 968 835 964 840 964 840 962 841 962 841 948 844 948 844 943 846 943 846 942 847 942 847 932 852 932 852 930 855 930 855 929 856 929 856 926 858 926 858 910 863 910 863 909 866 909 866 903 871 903 871 910 872 910 872 897 873 897 873 891 879 891 879 885 882 885 882 869 887 869 887 875 889 875 889 871 894 871 894 874 896 874 896 875 899 875 899 873 902 873 902 867 903 867 903 855 910 855 910 844 914 844 914 841 919 841 919 844 921 844 921 839 925 839 925 837 926 837 926 834 931 834 931 835 934 835 934 845 935 845 935 852 937 852 937 854 942 854 942 856 943 856 943 860 944 860 944 867 946 867 946 869 948 869 948 868 953 868 953 876 955 876 955 880 958 880 958 885 960 885 960 891 964 891 964 893 965 893 965 894 967 894 967 900 968 900 968 905 974 905 974 903 979 903 979 915 981 915 981 920 982 920 982 926 984 926 984 932 986 932 986 937 987 937 987 939 992 939 992 947 993 947 993 934 998 934 998 948 1002 948 1002 938 1007 938 1007 963 1009 963 1009 958 1014 958 1014 965 1019 965 1019 973 1024 973 1024 976 1028 976 1028 978 1029 978 1029 986 1032 986 1032 974 1037 974 1037 990 1038 990 1038 994 1039 994 1039 988 1044 988 1044 998 1045 998 1045 1001 1047 1001 1047 1004 1048 1004 1048 1003 1051 1003 1051 995 1056 995 1056 1011 1057 1011 1057 1012 1060 1012 1060 1019 1061 1019 1061 1006 1066 1006 1066 1008 1071 1008 1071 1025 1074 1025 1074 1030 1076 1030 1076 1033 1078 1033 1078 1031 1080 1031 1080 1025 1082 1025 1082 1023 1087 1023 1087 1033 1089 1033 1089 1034 1093 1034 1093 1035 1096 1035 1096 1037 1097 1037 1097 1041 1098 1041 1098 1043 1100 1043 1100 1045 1102 1045 1102 1046 1103 1046 1103 1048 1107 1048 1107 1054 1109 1054 1109 1052 1113 1052 1113 1046 1117 1046 1117 1044 1122 1044 1122 1052 1125 1052 1125 1038 1126 1038 1126 1025 1131 1025 1131 1031 1133 1031 1133 1042 1137 1042 1137 1030 1142 1030 1142 1055 1143 1055 1143 1044 1144 1044 1144 1041 1149 1041 1149 1043 1155 1043 1155 1036 1160 1036 1160 1041 1162 1041 1162 1042 1165 1042 1165 1044 1166 1044 1166 1017 1171 1017 1171 1015 1176 1015 1176 1019 1186 1019 1186 1018 1187 1018 1187 1015 1188 1015 1188 1010 1193 1010 1193 1020 1194 1020 1194 1006 1196 1006 1196 1005 1198 1005 1198 1000 1203 1000 1203 1005 1205 1005 1205 998 1206 998 1206 990 1211 990 1211 994 1213 994 1213 991 1215 991 1215 972 1220 972 1220 988 1221 988 1221 980 1224 980 1224 973 1229 973 1229 980 1230 980 1230 978 1233 978 1233 973 1234 973 1234 961 1239 961 1239 971 1242 971 1242 978 1243 978 1243 960 1245 960 1245 957 1247 957 1247 952 1252 952 1252 963 1254 963 1254 966 1255 966 1255 952 1260 952 1260 969 1261 969 1261 967 1266 967 1266 968 1268 968 1268 973 1270 973 1270 969 1275 969 1275 979 1278 979 1278 984 1279 984 1279 986 1280 986 1280 985 1284 985 1284 983 1286 983 1286 974 1291 974 1291 982 1293 982 1293 991 1294 991 1294 994 1295 994 1295 990 1300 990 1300 1008 1301 1008 1301 1007 1306 1007 1306 1017 1308 1017 1308 1020 1309 1020 1309 1006 1314 1006 1314 1011 1318 1011 1318 1018 1321 1018 1321 1029 1324 1029 1324 1030 1325 1030 1325 1031 1332 1031 1332 1052 1333 1052 1333 1049 1338 1049 1338 1058 1340 1058 1340 1062 1341 1062 1341 1059 1346 1059 1346 1067 1347 1067 1347 1068 1348 1068 1348 1077 1351 1077 1351 1082 1352 1082 1352 1088 1355 1088 1355 1086 1360 1086 1360 1099 1364 1099 1364 1105 1365 1105 1365 1106 1367 1106 1367 1107 1370 1107 1370 1118 1373 1118 1373 1120 1375 1120 1375 1121 1376 1121 1376 1134 1378 1134 1378 1123 1383 1123 1383 1129 1387 1129 1387 1140 1388 1140 1388 1123 1393 1123 1393 1144 1395 1144 1395 1142 1400 1142 1400 1145 1401 1145 1401 1148 1403 1148 1403 1158 1408 1158 1408 1164 1411 1164 1411 1174 1412 1174 1412 1165 1417 1165 1417 1171 1418 1171 1418 1158 1426 1158 1426 1168 1431 1168 1431 1177 1432 1177 1432 1178 1434 1178 1434 1166 1439 1166 1439 1176 1443 1176 1443 1168 1445 1168 1445 1165 1450 1165 1450 1169 1451 1169 1451 1172 1452 1172 1452 1169 1458 1169 1458 1179 1460 1179 1460 1183 1463 1183 1463 1178 1468 1178 1468 1188 1473 1188 1473 1184 1475 1184 1475 1174 1480 1174 1480 1185 1484 1185 1484 1173 1486 1173 1486 1167 1491 1167 1491 1177 1494 1177 1494 1181 1499 1181 1499 1183 1500 1183 1500 1174 1505 1174 1505 1184 1506 1184 1506 1183 1508 1183 1508 1175 1514 1175 1514 1180 1518 1180 1518 1186 1519 1186 1519 1182 1524 1182 1524 1185 1526 1185 1526 1189 1531 1189 1531 1192 1533 1192 1533 1174 1538 1174 1538 1192 1539 1192 1539 1183 1544 1183 1544 1194 1547 1194 1547 1195 1548 1195 1548 1199 1550 1199 1550 1194 1555 1194 1555 1200 1557 1200 1557 1202 1559 1202 1559 1197 1564 1197 1564 1200 1568 1200 1568 1206 1571 1206 1571 1205 1572 1205 1572 1202 1577 1202 1577 1207 1579 1207 1579 1203 1581 1203 1581 1195 1586 1195 1586 1204 1587 1204 1587 1190 1592 1190 1592 1213 1593 1213 1593 1214 1594 1214 1594 1208 1595 1208 1595 1206 1600 1206 1600 1195 1605 1195 1605 1199 1606 1199 1606 1203 1610 1203 1610 1206 1612 1206 1612 1197 1615 1197 1615 1192 1620 1192 1620 1194 1623 1194 1623 1191 1628 1191 1628 1194 1633 1194 1633 1195 1635 1195 1635 1190 1636 1190 1636 1189 1640 1189 1640 1188 1643 1188 1643 1186 1648 1186 1648 1188 1649 1188 1649 1183 1651 1183 1651 1169 1656 1169 1656 1185 1657 1185 1657 1180 1662 1180 1662 1184 1666 1184 1666 1189 1669 1189 1669 1178 1674 1178 1674 1191 1677 1191 1677 1199 1681 1199 1681 1200 1683 1200 1683 1201 1684 1201 1684 1198 1686 1198 1686 1191 1689 1191 1689 1184 1694 1184 1694 1190 1695 1190 1695 1189 1696 1189 1696 1186 1697 1186 1697 1184 1698 1184 1698 1183 1704 1183 1704 1179 1709 1179 1709 1188 1710 1188 1710 1193 1713 1193 1713 1194 1715 1194 1715 1188 1720 1188 1720 1192 1721 1192 1721 1175 1723 1175 1723 1118 1728 1118 1728 1201 1733 1201 1733 1199 1738 1199 1738 1203 1739 1203 1739 1205 1741 1205 1741 1207 1742 1207 1742 1202 1749 1202 1749 1190 1754 1190 1754 1198 1758 1198 1758 1202 1760 1202 1760 1197 1765 1197 1765 1206 1768 1206 1768 1205 1772 1205 1772 1199 1773 1199 1773 1197 1778 1197 1778 1204 1779 1204 1779 1197 1784 1197 1784 1191 1789 1191 1789 1197 1791 1197 1791 1198 1792 1198 1792 1196 1795 1196 1795 1162 1800 1162 1800 1183 1801 1183 1801 1186 1805 1186 1805 1187 1810 1187 1810 1193 1812 1193 1812 1188 1817 1188 1817 1195 1818 1195 1818 1196 1820 1196 1820 1188 1825 1188 1825 1094 1830 1094 1830 1171 1832 1171 1832 1174 1834 1174 1834 1168 1839 1168 1839 1182 1843 1182 1843 1172 1848 1172 1848 1179 1850 1179 1850 1170 1855 1170 1855 1175 1860 1175 1860 1184 1861 1184 1861 1181 1862 1181 1862 1176 1867 1176 1867 1175 1868 1175 1868 1160 1873 1160 1873 1175 1878 1175 1878 1207 1876 1207 1876 1243 1871 1243 1871 1224 1867 1224 1867 1222 1864 1222 1864 1221 1863 1221 1863 1228 1858 1228 1858 1225 1854 1225 1854 1229 1849 1229 1849 1220 1848 1220 1848 1222 1845 1222 1845 1226 1840 1226 1840 1237 1831 1237 1831 1230 1824 1230 1824 1239 1819 1239 1819 1237 1814 1237 1814 1243 1812 1243 1812 1246 1808 1246 1808 1257 1803 1257 1803 1239 1798 1239 1798 1243 1793 1243 1793 1236 1791 1236 1791 1237 1789 1237 1789 1238 1784 1238 1784 1237 1783 1237 1783 1241 1782 1241 1782 1246 1780 1246 1780 1251 1774 1251 1774 1269 1769 1269 1769 1249 1768 1249 1768 1252 1764 1252 1764 1262 1759 1262 1759 1251 1758 1251 1758 1261 1751 1261 1751 1251 1746 1251 1746 1257 1741 1257 1741 1248 1737 1248 1737 1246 1736 1246 1736 1253 1731 1253 1731 1251 1729 1251 1729 1247 1725 1247 1725 1240 1720 1240 1720 1242 1715 1242 1715 1241 1714 1241 1714 1228 1711 1228 1711 1229 1708 1229 1708 1237 1703 1237 1703 1229 1701 1229 1701 1224 1700 1224 1700 1235 1695 1235 1695 1239 1692 1239 1692 1248 1687 1248 1687 1246 1684 1246 1684 1240 1680 1240 1680 1237 1678 1237 1678 1245 1673 1245 1673 1240 1668 1240 1668 1229 1667 1229 1667 1225 1666 1225 1666 1226 1664 1226 1664 1230 1659 1230 1659 1226 1655 1226 1655 1225 1653 1225 1653 1223 1652 1223 1652 1227 1648 1227 1648 1239 1647 1239 1647 1249 1642 1249 1642 1239 1639 1239 1639 1235 1638 1235 1638 1239 1634 1239 1634 1254 1629 1254 1629 1258 1624 1258 1624 1251 1619 1251 1619 1252 1615 1252 1615 1254 1610 1254 1610 1249 1608 1249 1608 1243 1606 1243 1606 1242 1605 1242 1605 1244 1602 1244 1602 1249 1600 1249 1600 1252 1595 1252 1595 1247 1592 1247 1592 1253 1591 1253 1591 1257 1589 1257 1589 1260 1588 1260 1588 1261 1581 1261 1581 1246 1576 1246 1576 1247 1575 1247 1575 1253 1569 1253 1569 1255 1564 1255 1564 1254 1561 1254 1561 1252 1560 1252 1560 1253 1559 1253 1559 1254 1557 1254 1557 1264 1552 1264 1552 1249 1547 1249 1547 1248 1541 1248 1541 1244 1540 1244 1540 1254 1535 1254 1535 1243 1531 1243 1531 1240 1526 1240 1526 1230 1525 1230 1525 1232 1523 1232 1523 1240 1518 1240 1518 1224 1515 1224 1515 1231 1510 1231 1510 1228 1509 1228 1509 1234 1504 1234 1504 1224 1503 1224 1503 1218 1502 1218 1502 1229 1498 1229 1498 1235 1493 1235 1493 1241 1488 1241 1488 1225 1487 1225 1487 1232 1482 1232 1482 1236 1477 1236 1477 1226 1474 1226 1474 1227 1473 1227 1473 1228 1469 1228 1469 1234 1464 1234 1464 1221 1462 1221 1462 1216 1461 1216 1461 1219 1460 1219 1460 1222 1457 1222 1457 1236 1452 1236 1452 1227 1449 1227 1449 1220 1445 1220 1445 1219 1444 1219 1444 1225 1439 1225 1439 1219 1438 1219 1438 1223 1434 1223 1434 1231 1429 1231 1429 1221 1425 1221 1425 1224 1415 1224 1415 1217 1409 1217 1409 1216 1407 1216 1407 1205 1406 1205 1406 1204 1405 1204 1405 1208 1400 1208 1400 1201 1399 1201 1399 1199 1398 1199 1398 1197 1396 1197 1396 1195 1394 1195 1394 1191 1389 1191 1389 1188 1384 1188 1384 1179 1382 1179 1382 1175 1380 1175 1380 1187 1375 1187 1375 1172 1370 1172 1370 1163 1367 1163 1367 1153 1366 1153 1366 1152 1363 1152 1363 1148 1361 1148 1361 1142 1360 1142 1360 1141 1359 1141 1359 1146 1354 1146 1354 1139 1353 1139 1353 1130 1349 1130 1349 1124 1345 1124 1345 1115 1344 1115 1344 1111 1339 1111 1339 1103 1338 1103 1338 1100 1337 1100 1337 1103 1336 1103 1336 1107 1331 1107 1331 1098 1329 1098 1329 1086 1328 1086 1328 1094 1323 1094 1323 1073 1322 1073 1322 1068 1320 1068 1320 1070 1318 1070 1318 1072 1313 1072 1313 1070 1310 1070 1310 1064 1309 1064 1309 1054 1306 1054 1306 1060 1297 1060 1297 1050 1296 1050 1296 1044 1294 1044 1294 1039 1292 1039 1292 1040 1287 1040 1287 1028 1286 1028 1286 1026 1283 1026 1283 1023 1282 1023 1282 1026 1278 1026 1278 1030 1273 1030 1273 1021 1271 1021 1271 1014 1267 1014 1267 1015 1265 1015 1265 1016 1263 1016 1263 1025 1258 1025 1258 1018 1256 1018 1256 1011 1253 1011 1253 1015 1248 1015 1248 1013 1247 1013 1247 1014 1245 1014 1245 1020 1240 1020 1240 1016 1235 1016 1235 1014 1234 1014 1234 1035 1229 1035 1229 1040 1224 1040 1224 1036 1222 1036 1222 1034 1220 1034 1220 1035 1219 1035 1219 1039 1214 1039 1214 1035 1213 1035 1213 1040 1208 1040 1208 1039 1207 1039 1207 1043 1205 1043 1205 1062 1200 1062 1200 1065 1195 1065 1195 1057 1193 1057 1193 1074 1189 1074 1189 1076 1184 1076 1184 1066 1180 1066 1180 1068 1179 1068 1179 1069 1178 1069 1178 1072 1177 1072 1177 1075 1174 1075 1174 1086 1169 1086 1169 1084 1166 1084 1166 1083 1164 1083 1164 1088 1159 1088 1159 1084 1156 1084 1156 1087 1154 1087 1154 1091 1153 1091 1153 1102 1151 1102 1151 1107 1146 1107 1146 1091 1143 1091 1143 1090 1139 1090 1139 1089 1138 1089 1138 1087 1137 1087 1137 1088 1135 1088 1135 1090 1130 1090 1130 1086 1128 1086 1128 1088 1123 1088 1123 1084 1122 1084 1122 1085 1121 1085 1121 1091 1117 1091 1117 1095 1112 1095 1112 1093 1108 1093 1108 1097 1103 1097 1103 1098 1098 1098 1098 1092 1095 1092 1095 1091 1094 1091 1094 1079 1091 1079 1091 1077 1088 1077 1088 1079 1083 1079 1083 1068 1080 1068 1080 1073 1075 1073 1075 1065 1073 1065 1073 1073 1068 1073 1068 1066 1066 1066 1066 1067 1064 1067 1064 1069 1059 1069 1059 1055 1058 1055 1058 1051 1057 1051 1057 1055 1047 1055 1047 1051 1042 1051 1042 1046 1039 1046 1039 1039 1038 1039 1038 1035 1037 1035 1037 1034 1034 1034 1034 1032 1032 1032 1032 1033 1027 1033 1027 1030 1024 1030 1024 1028 1022 1028 1022 1018 1021 1018 1021 1012 1017 1012 1017 1007 1014 1007 1014 1005 1013 1005 1013 1011 1009 1011 1009 1012 1007 1012 1007 1017 1002 1017 1002 1002 1000 1002 1000 995 999 995 999 993 998 993 998 989 996 989 996 987 994 987 994 986 990 986 990 980 988 980 988 1001 983 1001 983 980 981 980 981 971 979 971 979 965 977 965 977 960 976 960 976 954 975 954 975 952 974 952 974 951 973 951 973 963 968 963 968 947 964 947 964 933 963 933 963 935 958 935 958 930 957 930 957 928 954 928 954 925 953 925 953 926 948 926 948 915 943 915 943 911 942 911 942 901 941 901 941 896 940 896 940 902 939 902 939 904 934 904 934 887 932 887 932 886 930 886 930 885 927 885 927 890 922 890 922 889 919 889 919 901 914 901 914 900 913 900 913 899 906 899 906 926 901 926 901 914 898 914 898 911 897 911 897 922 892 922 892 920 891 920 891 917 889 917 889 924 888 924 888 941 883 941 883 936 882 936 882 937 876 937 876 938 874 938 874 945 871 945 871 950 868 950 868 956 865 956 865 965 860 965 860 963 859 963 859 965 856 965 856 969 855 969 855 974 853 974 853 982 849 982 849 999 847 999 847 1006 842 1006 842 994 841 994 841 1004 839 1004 839 1018 838 1018 838 1028 833 1028 833 1017 831 1017 831 1023 829 1023 829 1025 827 1025 827 1027 826 1027 826 1029 825 1029 825 1033 824 1033 824 1043 819 1043 819 1044 816 1044 816 1053 811 1053 811 1049 808 1049 808 1052 807 1052 807 1055 805 1055 805 1061 802 1061 802 1069 799 1069 799 1071 797 1071 797 1084 794 1084 794 1092 790 1092 790 1107 785 1107 785 1099 783 1099 783 1098 782 1098 782 1109 777 1109 777 1102 776 1102 776 1121 771 1121 771 1111 770 1111 770 1143 765 1143 765 1122 763 1122 763 1128 760 1128 760 1136 757 1136 757 1141 755 1141 755 1148 750 1148 750 1146 749 1146 749 1152 743 1152 743 1157 741 1157 741 1167 737 1167 737 1170 736 1170 736 1188 733 1188 733 1189 732 1189 732 1190 731 1190 731 1192 730 1192 730 1213 729 1213 729 1221 726 1221 726 1230 724 1230 724 1236 723 1236 723 1245 722 1245 722 1249 721 1249 721 1261 718 1261 718 1273 717 1273 717 1279 715 1279 715 1289 713 1289 713 1305 712 1305 712 1310 709 1310 709 1315 706 1315 706 1320 703 1320 703 1331 701 1331 701 1338 700 1338 700 1345 698 1345 698 1349 697 1349 697 1357 696 1357 696 1370 687 1370Z" fill="#00ff00"/>
<path d="M677 1335 679 1335 679 1329 681 1329 681 1324 683 1324 683 1320 684 1320 684 1316 685 1316 685 1310 686 1310 686 1300 689 1300 689 1292 690 1292 690 1278 692 1278 692 1274 694 1274 694 1272 695 1272 695 1261 698 1261 698 1256 699 1256 699 1235 701 1235 701 1214 706 1214 706 1218 708 1218 708 1216 710 1216 710 1205 713 1205 713 1202 716 1202 716 1194 717 1194 717 1191 720 1191 720 1184 724 1184 724 1183 725 1183 725 1179 726 1179 726 1168 727 1168 727 1163 728 1163 728 1157 731 1157 731 1156 733 1156 733 1152 734 1152 734 1146 737 1146 737 1137 739 1137 739 1133 742 1133 742 1132 743 1132 743 1125 745 1125 745 1123 746 1123 746 1118 748 1118 748 1100 753 1100 753 1103 758 1103 758 1100 760 1100 760 1091 762 1091 762 1084 767 1084 767 1095 768 1095 768 1080 776 1080 776 1074 785 1074 785 1079 790 1079 790 1075 795 1075 795 1081 796 1081 796 1073 801 1073 801 1068 803 1068 803 1063 804 1063 804 1027 809 1027 809 1067 810 1067 810 1047 815 1047 815 1058 818 1058 818 1066 819 1066 819 1067 824 1067 824 1073 826 1073 826 1050 831 1050 831 1061 833 1061 833 1054 838 1054 838 1062 839 1062 839 1064 840 1064 840 1056 843 1056 843 1053 845 1053 845 1050 847 1050 847 1044 852 1044 852 1047 855 1047 855 1053 859 1053 859 1057 860 1057 860 1054 861 1054 861 1049 865 1049 865 1046 868 1046 868 1039 872 1039 872 1029 877 1029 877 1030 880 1030 880 1036 884 1036 884 1035 885 1035 885 1034 890 1034 890 1036 891 1036 891 1040 893 1040 893 1031 894 1031 894 1019 897 1019 897 1018 899 1018 899 999 907 999 907 1000 908 1000 908 992 913 992 913 996 916 996 916 997 921 997 921 991 922 991 922 979 927 979 927 981 931 981 931 984 933 984 933 982 938 982 938 998 940 998 940 1002 942 1002 942 995 947 995 947 998 950 998 950 1001 951 1001 951 1006 952 1006 952 1010 953 1010 953 995 958 995 958 1002 959 1002 959 996 964 996 964 999 966 999 966 1008 967 1008 967 1004 972 1004 972 1005 974 1005 974 1001 979 1001 979 1004 983 1004 983 1009 985 1009 985 1004 988 1004 988 990 993 990 993 997 997 997 997 982 1002 982 1002 999 1003 999 1003 985 1008 985 1008 989 1010 989 1010 979 1015 979 1015 981 1019 981 1019 983 1024 983 1024 978 1026 978 1026 976 1030 976 1030 974 1031 974 1031 969 1034 969 1034 961 1041 961 1041 959 1046 959 1046 972 1047 972 1047 970 1048 970 1048 958 1053 958 1053 968 1054 968 1054 964 1058 964 1058 963 1059 963 1059 961 1061 961 1061 960 1066 960 1066 966 1067 966 1067 962 1072 962 1072 972 1073 972 1073 974 1074 974 1074 964 1079 964 1079 967 1082 967 1082 968 1083 968 1083 970 1086 970 1086 969 1087 969 1087 957 1092 957 1092 959 1093 959 1093 960 1095 960 1095 967 1097 967 1097 970 1102 970 1102 973 1103 973 1103 984 1105 984 1105 981 1106 981 1106 980 1107 980 1107 979 1112 979 1112 976 1117 976 1117 978 1121 978 1121 976 1126 976 1126 978 1128 978 1128 966 1133 966 1133 968 1134 968 1134 976 1137 976 1137 983 1138 983 1138 988 1142 988 1142 979 1147 979 1147 976 1149 976 1149 975 1151 975 1151 974 1158 974 1158 973 1160 973 1160 971 1162 971 1162 961 1167 961 1167 978 1168 978 1168 979 1169 979 1169 969 1171 969 1171 966 1176 966 1176 970 1182 970 1182 969 1186 969 1186 957 1191 957 1191 958 1193 958 1193 963 1194 963 1194 955 1196 955 1196 929 1201 929 1201 964 1202 964 1202 960 1204 960 1204 951 1209 951 1209 956 1211 956 1211 952 1216 952 1216 949 1218 949 1218 947 1226 947 1226 940 1228 940 1228 924 1233 924 1233 931 1238 931 1238 941 1240 941 1240 940 1243 940 1243 937 1244 937 1244 928 1249 928 1249 935 1251 935 1251 941 1252 941 1252 940 1253 940 1253 935 1258 935 1258 936 1259 936 1259 933 1264 933 1264 931 1268 931 1268 924 1273 924 1273 918 1278 918 1278 931 1279 931 1279 933 1281 933 1281 942 1283 942 1283 935 1289 935 1289 948 1290 948 1290 933 1295 933 1295 934 1300 934 1300 955 1301 955 1301 946 1306 946 1306 947 1311 947 1311 957 1315 957 1315 959 1319 959 1319 963 1321 963 1321 976 1322 976 1322 975 1327 975 1327 982 1330 982 1330 975 1335 975 1335 980 1338 980 1338 985 1343 985 1343 992 1344 992 1344 996 1346 996 1346 1005 1347 1005 1347 1008 1349 1008 1349 1011 1351 1011 1351 1013 1353 1013 1353 1017 1354 1017 1354 1019 1356 1019 1356 1023 1359 1023 1359 1028 1360 1028 1360 1033 1361 1033 1361 1031 1366 1031 1366 1033 1371 1033 1371 1051 1376 1051 1376 1064 1378 1064 1378 1068 1379 1068 1379 1075 1382 1075 1382 1078 1384 1078 1384 1079 1385 1079 1385 1080 1386 1080 1386 1086 1387 1086 1387 1095 1388 1095 1388 1096 1390 1096 1390 1098 1395 1098 1395 1101 1396 1101 1396 1108 1398 1108 1398 1110 1402 1110 1402 1119 1405 1119 1405 1111 1410 1111 1410 1123 1413 1123 1413 1125 1414 1125 1414 1121 1419 1121 1419 1123 1421 1123 1421 1124 1426 1124 1426 1139 1428 1139 1428 1129 1429 1129 1429 1127 1434 1127 1434 1140 1438 1140 1438 1145 1439 1145 1439 1148 1440 1148 1440 1147 1441 1147 1441 1128 1446 1128 1446 1150 1449 1150 1449 1153 1450 1153 1450 1150 1451 1150 1451 1144 1456 1144 1456 1153 1458 1153 1458 1142 1463 1142 1463 1150 1464 1150 1464 1149 1468 1149 1468 1148 1473 1148 1473 1151 1475 1151 1475 1154 1477 1154 1477 1162 1479 1162 1479 1169 1484 1169 1484 1165 1486 1165 1486 1163 1491 1163 1491 1167 1492 1167 1492 1173 1493 1173 1493 1164 1498 1164 1498 1168 1500 1168 1500 1167 1502 1167 1502 1160 1507 1160 1507 1164 1513 1164 1513 1161 1518 1161 1518 1166 1519 1166 1519 1162 1524 1162 1524 1176 1526 1176 1526 1178 1530 1178 1530 1181 1534 1181 1534 1182 1536 1182 1536 1120 1541 1120 1541 1176 1546 1176 1546 1184 1548 1184 1548 1182 1553 1182 1553 1175 1558 1175 1558 1181 1559 1181 1559 1189 1561 1189 1561 1185 1566 1185 1566 1190 1568 1190 1568 1193 1572 1193 1572 1198 1574 1198 1574 1207 1575 1207 1575 1206 1577 1206 1577 1204 1588 1204 1588 1205 1589 1205 1589 1203 1592 1203 1592 1198 1597 1198 1597 1211 1598 1211 1598 1190 1603 1190 1603 1201 1607 1201 1607 1184 1612 1184 1612 1212 1619 1212 1619 1216 1620 1216 1620 1224 1621 1224 1621 1202 1626 1202 1626 1207 1629 1207 1629 1213 1632 1213 1632 1222 1633 1222 1633 1223 1634 1223 1634 1226 1637 1226 1637 1215 1642 1215 1642 1226 1643 1226 1643 1233 1644 1233 1644 1226 1649 1226 1649 1229 1654 1229 1654 1234 1657 1234 1657 1213 1662 1213 1662 1228 1663 1228 1663 1233 1665 1233 1665 1239 1673 1239 1673 1242 1674 1242 1674 1240 1676 1240 1676 1237 1677 1237 1677 1235 1684 1235 1684 1227 1689 1227 1689 1236 1692 1236 1692 1227 1697 1227 1697 1229 1702 1229 1702 1236 1703 1236 1703 1234 1707 1234 1707 1218 1712 1218 1712 1230 1714 1230 1714 1235 1717 1235 1717 1233 1718 1233 1718 1232 1723 1232 1723 1237 1727 1237 1727 1234 1732 1234 1732 1241 1735 1241 1735 1245 1736 1245 1736 1242 1737 1242 1737 1240 1742 1240 1742 1238 1744 1238 1744 1226 1753 1226 1753 1247 1754 1247 1754 1243 1756 1243 1756 1238 1763 1238 1763 1239 1766 1239 1766 1226 1771 1226 1771 1231 1773 1231 1773 1229 1778 1229 1778 1232 1781 1232 1781 1231 1782 1231 1782 1230 1785 1230 1785 1219 1790 1219 1790 1234 1795 1234 1795 1224 1800 1224 1800 1220 1805 1220 1805 1235 1807 1235 1807 1232 1808 1232 1808 1231 1809 1231 1809 1223 1814 1223 1814 1231 1815 1231 1815 1229 1818 1229 1818 1221 1823 1221 1823 1222 1824 1222 1824 1221 1825 1221 1825 1218 1830 1218 1830 1226 1832 1226 1832 1221 1833 1221 1833 1214 1838 1214 1838 1218 1840 1218 1840 1215 1842 1215 1842 1205 1847 1205 1847 1214 1851 1214 1851 1209 1856 1209 1856 1205 1861 1205 1861 1213 1865 1213 1865 1211 1866 1211 1866 1203 1871 1203 1871 1199 1876 1199 1876 1196 1881 1196 1881 1212 1882 1212 1882 1228 1881 1228 1881 1241 1879 1241 1879 1245 1878 1245 1878 1250 1877 1250 1877 1253 1863 1253 1863 1258 1860 1258 1860 1261 1858 1261 1858 1263 1853 1263 1853 1268 1848 1268 1848 1259 1847 1259 1847 1263 1842 1263 1842 1260 1841 1260 1841 1262 1840 1262 1840 1264 1836 1264 1836 1265 1833 1265 1833 1275 1828 1275 1828 1267 1827 1267 1827 1269 1820 1269 1820 1266 1816 1266 1816 1272 1815 1272 1815 1273 1812 1273 1812 1274 1811 1274 1811 1278 1806 1278 1806 1277 1804 1277 1804 1306 1799 1306 1799 1289 1796 1289 1796 1282 1795 1282 1795 1283 1789 1283 1789 1278 1788 1278 1788 1282 1786 1282 1786 1288 1781 1288 1781 1284 1779 1284 1779 1289 1776 1289 1776 1291 1771 1291 1771 1274 1768 1274 1768 1297 1763 1297 1763 1290 1761 1290 1761 1286 1758 1286 1758 1288 1756 1288 1756 1295 1751 1295 1751 1287 1750 1287 1750 1299 1745 1299 1745 1290 1741 1290 1741 1289 1740 1289 1740 1288 1736 1288 1736 1291 1731 1291 1731 1282 1729 1282 1729 1292 1724 1292 1724 1291 1719 1291 1719 1285 1714 1285 1714 1277 1713 1277 1713 1269 1712 1269 1712 1286 1707 1286 1707 1284 1703 1284 1703 1280 1702 1280 1702 1277 1699 1277 1699 1278 1694 1278 1694 1275 1693 1275 1693 1301 1688 1301 1688 1275 1687 1275 1687 1276 1686 1276 1686 1277 1685 1277 1685 1278 1684 1278 1684 1290 1679 1290 1679 1284 1678 1284 1678 1298 1673 1298 1673 1300 1668 1300 1668 1281 1667 1281 1667 1282 1664 1282 1664 1291 1659 1291 1659 1280 1657 1280 1657 1277 1655 1277 1655 1279 1653 1279 1653 1282 1648 1282 1648 1272 1647 1272 1647 1277 1642 1277 1642 1272 1640 1272 1640 1271 1636 1271 1636 1268 1634 1268 1634 1264 1633 1264 1633 1261 1631 1261 1631 1274 1626 1274 1626 1268 1621 1268 1621 1261 1619 1261 1619 1256 1617 1256 1617 1253 1616 1253 1616 1255 1615 1255 1615 1276 1610 1276 1610 1256 1609 1256 1609 1254 1606 1254 1606 1252 1604 1252 1604 1255 1597 1255 1597 1257 1592 1257 1592 1248 1591 1248 1591 1252 1589 1252 1589 1254 1584 1254 1584 1249 1582 1249 1582 1254 1579 1254 1579 1257 1574 1257 1574 1251 1573 1251 1573 1249 1572 1249 1572 1245 1569 1245 1569 1237 1564 1237 1564 1241 1559 1241 1559 1234 1554 1234 1554 1224 1553 1224 1553 1225 1551 1225 1551 1230 1546 1230 1546 1226 1542 1226 1542 1228 1541 1228 1541 1234 1536 1234 1536 1225 1535 1225 1535 1226 1525 1226 1525 1215 1521 1215 1521 1216 1520 1216 1520 1219 1515 1219 1515 1209 1514 1209 1514 1221 1509 1221 1509 1216 1504 1216 1504 1210 1503 1210 1503 1217 1498 1217 1498 1208 1497 1208 1497 1205 1496 1205 1496 1220 1491 1220 1491 1221 1486 1221 1486 1215 1484 1215 1484 1209 1481 1209 1481 1212 1479 1212 1479 1217 1474 1217 1474 1207 1471 1207 1471 1205 1469 1205 1469 1204 1468 1204 1468 1197 1467 1197 1467 1198 1463 1198 1463 1201 1456 1201 1456 1210 1451 1210 1451 1197 1450 1197 1450 1198 1445 1198 1445 1195 1444 1195 1444 1197 1439 1197 1439 1190 1438 1190 1438 1189 1436 1189 1436 1187 1432 1187 1432 1184 1430 1184 1430 1183 1429 1183 1429 1186 1424 1186 1424 1172 1421 1172 1421 1181 1416 1181 1416 1180 1415 1180 1415 1169 1413 1169 1413 1173 1408 1173 1408 1168 1404 1168 1404 1161 1400 1161 1400 1157 1399 1157 1399 1151 1397 1151 1397 1150 1395 1150 1395 1149 1394 1149 1394 1147 1393 1147 1393 1139 1391 1139 1391 1136 1388 1136 1388 1132 1385 1132 1385 1129 1384 1129 1384 1123 1383 1123 1383 1128 1378 1128 1378 1125 1376 1125 1376 1122 1375 1122 1375 1114 1374 1114 1374 1109 1371 1109 1371 1095 1369 1095 1369 1093 1368 1093 1368 1090 1364 1090 1364 1079 1363 1079 1363 1074 1360 1074 1360 1066 1351 1066 1351 1067 1346 1067 1346 1054 1342 1054 1342 1040 1339 1040 1339 1033 1335 1033 1335 1021 1334 1021 1334 1024 1332 1024 1332 1035 1326 1035 1326 1009 1325 1009 1325 1012 1323 1012 1323 1020 1318 1020 1318 1016 1317 1016 1317 1008 1313 1008 1313 1011 1311 1011 1311 1017 1306 1017 1306 1000 1304 1000 1304 999 1303 999 1303 1008 1298 1008 1298 1004 1295 1004 1295 1000 1293 1000 1293 998 1292 998 1292 995 1291 995 1291 991 1289 991 1289 993 1284 993 1284 989 1282 989 1282 993 1277 993 1277 985 1272 985 1272 984 1271 984 1271 990 1266 990 1266 983 1262 983 1262 979 1259 979 1259 977 1258 977 1258 971 1257 971 1257 973 1256 973 1256 977 1251 977 1251 984 1250 984 1250 986 1245 986 1245 980 1244 980 1244 986 1239 986 1239 979 1236 979 1236 990 1233 990 1233 991 1230 991 1230 999 1227 999 1227 1004 1222 1004 1222 1000 1221 1000 1221 995 1216 995 1216 999 1211 999 1211 998 1210 998 1210 997 1207 997 1207 999 1203 999 1203 1002 1202 1002 1202 1007 1201 1007 1201 1015 1196 1015 1196 1009 1193 1009 1193 1017 1188 1017 1188 1014 1185 1014 1185 1018 1180 1018 1180 1016 1177 1016 1177 1026 1172 1026 1172 1023 1171 1023 1171 1032 1166 1032 1166 1018 1165 1018 1165 1019 1160 1019 1160 1015 1159 1015 1159 1020 1158 1020 1158 1025 1153 1025 1153 1020 1152 1020 1152 1025 1149 1025 1149 1027 1148 1027 1148 1031 1147 1031 1147 1035 1142 1035 1142 1042 1137 1042 1137 1038 1134 1038 1134 1028 1132 1028 1132 1019 1130 1019 1130 1013 1126 1013 1126 1022 1121 1022 1121 1017 1118 1017 1118 1020 1116 1020 1116 1022 1115 1022 1115 1023 1113 1023 1113 1029 1108 1029 1108 1022 1106 1022 1106 1020 1101 1020 1101 1011 1100 1011 1100 1015 1095 1015 1095 1014 1090 1014 1090 1003 1089 1003 1089 1004 1088 1004 1088 1021 1083 1021 1083 1014 1081 1014 1081 1020 1076 1020 1076 1017 1071 1017 1071 1011 1070 1011 1070 1012 1065 1012 1065 1010 1064 1010 1064 1011 1059 1011 1059 1007 1058 1007 1058 1005 1056 1005 1056 1008 1051 1008 1051 1007 1049 1007 1049 1006 1048 1006 1048 1010 1047 1010 1047 1011 1044 1011 1044 1023 1039 1023 1039 1012 1035 1012 1035 1019 1034 1019 1034 1033 1029 1033 1029 1025 1023 1025 1023 1026 1020 1026 1020 1035 1015 1035 1015 1034 1014 1034 1014 1035 1010 1035 1010 1041 1005 1041 1005 1042 1004 1042 1004 1066 999 1066 999 1040 997 1040 997 1060 992 1060 992 1054 989 1054 989 1055 988 1055 988 1065 983 1065 983 1053 979 1053 979 1050 975 1050 975 1043 974 1043 974 1052 971 1052 971 1056 969 1056 969 1062 964 1062 964 1043 962 1043 962 1052 956 1052 956 1046 955 1046 955 1059 954 1059 954 1082 953 1082 953 1089 948 1089 948 1048 947 1048 947 1047 942 1047 942 1045 941 1045 941 1066 936 1066 936 1041 935 1041 935 1048 930 1048 930 1032 928 1032 928 1035 923 1035 923 1034 922 1034 922 1035 919 1035 919 1037 918 1037 918 1044 916 1044 916 1056 911 1056 911 1033 908 1033 908 1054 903 1054 903 1043 902 1043 902 1057 901 1057 901 1065 896 1065 896 1084 891 1084 891 1076 890 1076 890 1074 888 1074 888 1068 887 1068 887 1075 885 1075 885 1078 882 1078 882 1080 879 1080 879 1081 878 1081 878 1087 874 1087 874 1089 872 1089 872 1094 867 1094 867 1085 865 1085 865 1089 862 1089 862 1090 860 1090 860 1097 855 1097 855 1095 851 1095 851 1094 850 1094 850 1095 849 1095 849 1096 847 1096 847 1099 842 1099 842 1097 841 1097 841 1095 840 1095 840 1112 835 1112 835 1110 833 1110 833 1109 830 1109 830 1113 827 1113 827 1117 820 1117 820 1110 819 1110 819 1108 818 1108 818 1106 817 1106 817 1103 816 1103 816 1109 811 1109 811 1110 810 1110 810 1114 806 1114 806 1118 798 1118 798 1121 796 1121 796 1131 793 1131 793 1138 788 1138 788 1134 786 1134 786 1128 784 1128 784 1138 779 1138 779 1132 778 1132 778 1125 777 1125 777 1129 776 1129 776 1130 773 1130 773 1136 769 1136 769 1138 767 1138 767 1147 762 1147 762 1146 761 1146 761 1147 760 1147 760 1149 757 1149 757 1151 756 1151 756 1159 751 1159 751 1173 746 1173 746 1176 743 1176 743 1179 741 1179 741 1188 738 1188 738 1194 734 1194 734 1197 733 1197 733 1214 730 1214 730 1216 724 1216 724 1226 722 1226 722 1235 718 1235 718 1250 715 1250 715 1259 710 1259 710 1271 705 1271 705 1268 704 1268 704 1269 703 1269 703 1279 702 1279 702 1290 699 1290 699 1301 696 1301 696 1315 695 1315 695 1318 693 1318 693 1326 692 1326 692 1327 691 1327 691 1328 690 1328 690 1339 689 1339 689 1344 688 1344 688 1353 685 1353 685 1370 677 1370Z" fill="#ff0000"/>
</g>
<g fill="#000">
<text x="368.5" y="1394.0" font-size="102.5" text-anchor="end">0</text>
<text x="368.5" y="1147.3" font-size="102.5" text-anchor="end">100</text>
<text x="368.5" y="900.6" font-size="102.5" text-anchor="end">200</text>
<text x="368.5" y="653.9" font-size="102.5" text-anchor="end">300</text>
<text x="368.5" y="407.2" font-size="102.5" text-anchor="end">400</text>
<text x="368.5" y="160.5" font-size="102.5" text-anchor="end">500</text>
<text x="441.8" y="1518" font-size="102.5" text-anchor="middle">0</text>
<text x="802.8" y="1518" font-size="102.5" text-anchor="middle">200</text>
<text x="1163.8" y="1518" font-size="102.5" text-anchor="middle">400</text>
<text x="1524.8" y="1518" font-size="102.5" text-anchor="middle">600</text>
<text x="1885.8" y="1518" font-size="102.5" text-anchor="middle">800</text>
<text x="1254.5" y="1687" font-size="102.3" text-anchor="middle">Temperature (°C)</text>
<text transform="translate(136,1282) rotate(-90) scale(1,1.025)" font-size="100">CO<tspan font-size="64" dy="35.5">2</tspan><tspan dy="-35.5"> evolution (ppm/g</tspan><tspan font-size="64" dy="35.5">cat</tspan><tspan dy="-35.5">)</tspan></text>
</g>
<g>
<rect x="1129" y="118.5" width="948" height="506" fill="none" stroke="#000" stroke-width="6"/>
<line x1="1143" y1="186.3" x2="1366" y2="186.3" stroke="#000000" stroke-width="6" stroke-linecap="round"/>
<text x="1391" y="219.3" font-size="100.6">Aged @ 270°C</text>
<line x1="1143" y1="309.7" x2="1366" y2="309.7" stroke="#0000ff" stroke-width="6" stroke-linecap="round"/>
<text x="1391" y="342.5" font-size="100.6">Aged @ 380°C</text>
<line x1="1143" y1="433.1" x2="1366" y2="433.1" stroke="#00ff00" stroke-width="6" stroke-linecap="round"/>
<text x="1391" y="465.7" font-size="100.6">Aged @ 425°C</text>
<line x1="1143" y1="556.5" x2="1366" y2="556.5" stroke="#ff0000" stroke-width="6" stroke-linecap="round"/>
<text x="1391" y="588.9" font-size="100.6">Aged @ 500°C</text>
</g>
</svg>
</body></html>
